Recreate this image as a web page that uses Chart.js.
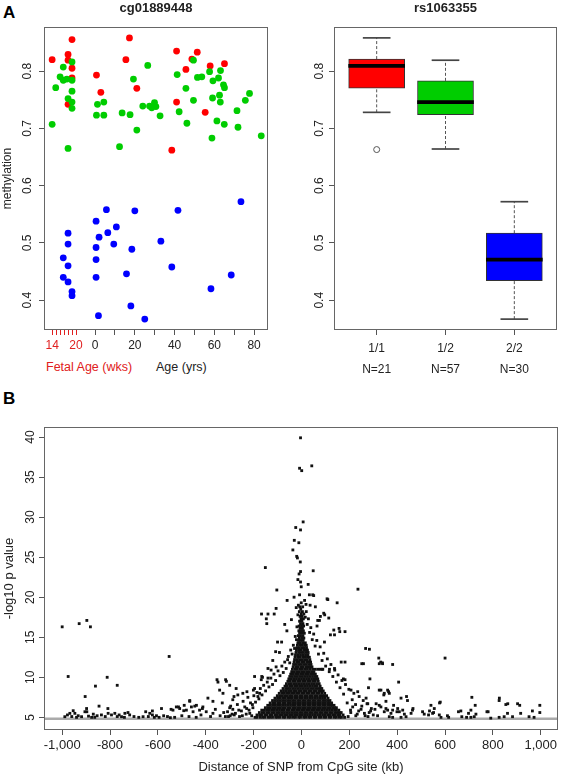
<!DOCTYPE html>
<html>
<head>
<meta charset="utf-8">
<script src="https://cdn.jsdelivr.net/npm/chart.js@4.4.1/dist/chart.umd.min.js"></script>
<style>
  html, body { margin: 0; padding: 0; background: #fff; }
  body { width: 562px; height: 776px; position: relative; overflow: hidden; font-family: "Liberation Sans", Arial, sans-serif; }
  canvas { position: absolute; }
  .lbl { position: absolute; white-space: nowrap; line-height: 1; }
</style>
</head>
<body>
<div class="lbl" style="left:3px;top:4px;font-size:17px;font-weight:bold;">A</div>
<div class="lbl" style="left:3px;top:390px;font-size:17px;font-weight:bold;">B</div>
<div class="lbl" style="left:46px;top:361px;font-size:12.5px;color:#E02020;">Fetal Age (wks)</div>
<div class="lbl" style="left:156px;top:361px;font-size:12.5px;color:#222;">Age (yrs)</div>
<canvas id="ageChart" style="left:0;top:0;width:281px;height:385px" width="281" height="385"></canvas>
<canvas id="boxChart" style="left:281px;top:0;width:281px;height:385px" width="281" height="385"></canvas>
<canvas id="snpChart" style="left:0;top:385px;width:562px;height:391px" width="562" height="391"></canvas>
<script>
// ---- Panel A left: cg01889448 methylation vs age, coloured by rs1063355 genotype ----
// fetal samples are in weeks of gestation, postnatal samples in years
const fetalWeeks11 = [14, 19, 18, 18, 19, 19, 18];
const fetalMeth11 = [0.820, 0.855, 0.829, 0.819, 0.805, 0.788, 0.742];
const ageYears11 = [0.7, 2.9, 17.3, 15.5, 21, 41, 45.7, 41, 38.6, 51.4, 48.7, 57.9, 65.1, 55.4];
const ageMeth11 = [0.793, 0.763, 0.858, 0.820, 0.770, 0.835, 0.803, 0.746, 0.662, 0.833, 0.821, 0.809, 0.813, 0.728];

const fetalWeeks12 = [14, 14.9, 16, 16.8, 16.8, 17.7, 19, 19, 19, 18, 19, 19, 18];
const fetalMeth12 = [0.707, 0.771, 0.790, 0.807, 0.784, 0.786, 0.816, 0.784, 0.765, 0.752, 0.746, 0.735, 0.665];
const ageYears12 = [0.7, 1.2, 4.4, 4.4, 12.3, 13.6, 17.6, 19.3, 21, 26.5, 24, 27.4, 28.5, 29.9, 30.6, 32.7,
  41.3, 42.3, 46.2, 45.7, 49.5, 49.5, 51.5, 53.7, 57.6, 59.3, 59.1, 58.8, 61.3, 62.1, 63.1, 62.6, 63,
  64.6, 65.1, 65, 71.4, 71.9, 75.6, 77.7, 83.6];
const ageMeth12 = [0.723, 0.742, 0.723, 0.746, 0.668, 0.727, 0.724, 0.786, 0.697, 0.810, 0.739, 0.739, 0.736, 0.745, 0.738, 0.722,
  0.794, 0.729, 0.709, 0.770, 0.749, 0.819, 0.789, 0.790, 0.799, 0.783, 0.753, 0.683, 0.713, 0.788, 0.801, 0.758, 0.746,
  0.776, 0.771, 0.707, 0.731, 0.702, 0.749, 0.761, 0.687];

const fetalWeeks22 = [16.8, 16.8, 18, 18, 18, 18, 19, 19];
const fetalMeth22 = [0.474, 0.440, 0.517, 0.498, 0.460, 0.432, 0.415, 0.408];
const ageYears22 = [0.5, 0.5, 0.5, 0.5, 1.7, 2, 5.7, 6.4, 9.4, 10.7, 15.8, 18, 18.5, 20, 25, 33.1, 38.6, 41.7, 58.3, 68.5, 73.4];
const ageMeth22 = [0.538, 0.492, 0.471, 0.440, 0.373, 0.510, 0.558, 0.518, 0.498, 0.528, 0.446, 0.390, 0.489, 0.556, 0.367, 0.503, 0.458, 0.557, 0.420, 0.444, 0.572];

const fetalTickWeeks = [14, 15, 16, 17, 18, 19, 20];
const fetalLabelWeeks = [14, 20];
const ageTickYears = [0, 10, 20, 30, 40, 50, 60, 70, 80];
const ageLabelYears = [0, 20, 40, 60, 80];
const methTicks = [0.4, 0.5, 0.6, 0.7, 0.8];

// ---- Panel A right: boxplot by genotype ----
const genotypes = ['1/1', '1/2', '2/2'];
const genotypeN = [21, 57, 30];
const boxLow = [0.728, 0.664, 0.367];
const boxQ1 = [0.770, 0.724, 0.434];
const boxMed = [0.809, 0.746, 0.471];
const boxQ3 = [0.821, 0.783, 0.517];
const boxHigh = [0.858, 0.819, 0.572];
const boxOutliers = [[0.663], [], []];

// ---- Panel B: SNP distance (kb) vs -log10 p ----
const distTicks = [-1000, -800, -600, -400, -200, 0, 200, 400, 600, 800, 1000];
const pTicks = [5, 10, 15, 20, 25, 30, 35, 40];
const pThreshold = 4.83;

// isolated points read one by one: [kb, -log10 p]
const snpScattered = [
  [-4,39.9],[-8,36.1],[1,35.8],[43,36.4],[7,29.4],[-24,28.7],[-4,28.4],[-30,27.1],[-11,26.8],[-36,25.9],
  [-20,25.1],[-17,24.9],[-5,24.4],[-151,23.7],[49,23.3],[-4,23.2],[-10,22.9],[-4,21.9],[-1,21.3],[-103,20.9],
  [236,21.0],[-8,20.3],[33,20.3],[47,20.3],[-60,19.6],[110,19.7],[149,19.3],[-1,19.3],[19,19.1],[36,19.0],
  [-22,18.7],[-167,17.9],[-140,17.9],[-114,17.9],[-106,18.6],[-147,17.3],[-145,16.7],[97,17.8],[114,17.4],[68,17.1],
  [75,17.1],[157,16.1],[160,15.7],[182,15.7],[-61,15.8],[138,15.3],[96,14.4],[-100,14.4],[-83,14.4],[268,13.6],
  [284,13.5],[-108,13.2],[-92,13.1],[-120,12.1],[-58,12.2],[323,12.4],[331,11.9],[338,11.8],[381,11.6],[252,11.7],
  [259,11.7],[166,11.9],[182,11.9],[138,11.1],[117,11.0],[89,11.0],[-140,11.1],[-127,10.9],[-106,11.3],[-196,10.1],
  [-166,10.1],[-168,9.7],[-140,9.9],[-353,9.7],[-317,9.7],[-349,9.4],[-300,9.0],[182,9.7],[175,9.8],[286,9.8],
  [280,8.7],[332,8.4],[360,8.4],[344,7.8],[367,8.0],[235,8.2],[207,8.4],[-391,7.4],[-342,8.4],[-328,8.0],
  [-370,7.0],[-273,8.6],[-266,7.8],[-287,7.2],[-245,8.0],[-196,8.6],[-175,8.0],[-182,7.6],[385,6.5],[353,7.0],
  [381,5.9],[399,5.7],[270,7.4],[277,6.7],[312,6.7],[51,20.2],[107,19.8],[121,15.3],[135,15.9],[79,17.6],
  [93,18.0],[65,16.4],[58,18.8],[-42,17.2],[-70,16.6],[-31,20.0],[28,21.6],[-15,22.2],
  [-1000,16.3],[-975,10.1],[-929,16.7],[-897,17.1],[-882,16.3],[-904,7.6],[-812,10.0],[-861,8.9],[-770,9.0],[-846,6.4],
  [-898,6.1],[-897,5.7],[-809,6.1],[-553,12.6],[-623,5.8],[-545,6.0],[-514,6.3],[-467,7.0],[-490,6.5],[-446,6.4],
  [-414,6.1],[-314,9.5],[-331,6.8],[-282,7.6],[-228,8.2],[-163,10.0],[-201,8.4],
  [-989,5.08],[-978,5.3],[-968,5.5],[-954,5.83],[-947,5.5],[-933,5.2],[-919,5.08],[-905,5.7],[-877,5.0],[-864,5.0],
  [-854,5.2],[-836,5.3],[-808,5.5],[-794,5.3],[-780,5.5],[-762,5.3],[-752,5.08],[-738,5.5],[-725,5.6],[-718,5.3],
  [-662,5.08],[-651,5.7],[-634,5.5],[-623,5.3],[-606,5.2],[-595,5.0],[-585,6.1],[-576,5.2],[-548,4.96],[-537,5.9],
  [-523,6.3],[-509,6.1],[-492,5.83],[-481,5.9],[-467,7.1],[-460,6.3],[-453,5.7],[-439,6.5],[-426,5.9],[-412,6.3],
  [-398,5.7],[-960,5.1],[-940,5.0],[-890,5.15],[-870,5.4],[-820,5.1],[-770,5.1],[-740,5.0],[-700,5.1],[-680,5.0],
  [-640,5.1],[-615,5.0],[-560,5.1],[-530,5.0],[-500,5.2],[-470,5.1],[-440,5.0],[-420,5.3],[-380,5.1],[-370,5.5],
  [-360,6.0],[-340,5.2],[-325,5.6],[-305,5.1],[-300,6.2],[-290,5.4],
  [325,6.5],[332,6.3],[353,6.1],[346,5.7],[360,5.9],[374,5.5],[367,5.08],[381,5.0],[402,6.1],[409,5.7],
  [423,5.9],[430,5.4],[437,5.08],[416,5.0],[464,5.9],[458,5.5],[506,5.7],[513,5.4],[531,5.3],[548,5.5],
  [576,5.3],[583,5.0],[610,5.2],[615,5.0],[666,5.8],[656,5.7],[670,5.08],[690,5.0],[708,5.0],[722,5.08],
  [708,5.9],[698,5.5],[729,5.4],[791,4.9],[826,5.0],[847,5.08],[882,5.08],[951,5.08],[972,5.0],[780,5.7],
  [861,5.5],[916,5.5],[965,5.8],[996,5.6],[996,6.5],[903,6.7],[912,6.5],[854,6.6],[826,7.1],[712,7.5],
  [726,6.5],[580,6.9],[541,6.5],[555,6.1],[416,7.4],[439,7.6],[443,7.1],[325,8.4],[346,8.0],[364,8.2],
  [406,9.4],[325,11.7],[339,11.7],[600,12.4],[466,6.1],[535,5.8],[552,5.6],[577,6.8],[827,7.4],[862,6.7],[775,5.7]
];

// looser points around the edge of the dense cloud
const snpHalo = [
  [-298,5.2],[-287,6.0],[-276,5.5],[-268,6.6],[-259,5.1],[-251,5.8],[-244,7.0],[-237,6.3],[-231,5.4],[-224,7.5],
  [-219,5.9],[-213,6.8],[-208,5.2],[-203,6.2],[-199,7.7],[-192,6.9],[-186,8.1],[-178,7.3],[-172,8.6],[-165,7.8],
  [-158,9.0],[-150,8.3],[-143,9.4],[-136,8.8],[-128,9.9],[-121,9.1],[-115,10.4],[-108,9.6],[-98,10.8],[-90,10.2],
  [-82,11.4],[-76,10.6],[-70,11.9],[-64,11.1],[-55,12.6],[-49,11.8],[-45,13.4],[-39,12.9],[-34,14.0],[-29,13.6],
  [-26,15.1],[-21,14.7],[-19,16.3],[-15,17.8],[-13,19.0],[-318,5.1],[-309,5.7],[-296,6.4],[-281,5.3],[-262,5.9],
  [-247,5.2],[-229,6.1],[-216,5.5],[-205,6.6],
  [300,5.3],[292,6.1],[283,5.6],[274,6.7],[266,5.2],[258,7.1],[249,6.0],[241,7.6],[233,5.4],[226,6.6],
  [219,8.0],[212,7.2],[205,5.9],[198,8.5],[191,6.8],[184,9.1],[176,7.9],[169,9.6],[161,8.7],[153,10.3],
  [146,9.4],[139,10.9],[131,10.1],[123,11.6],[116,10.7],[108,12.3],[101,11.4],[93,13.0],[86,12.1],[78,13.8],
  [71,12.9],[64,14.6],[57,13.9],[51,15.4],[45,14.7],[39,16.2],[34,15.6],[29,17.3],[24,16.6],[20,18.2],
  [16,17.5],[13,19.6],[195,5.1],[206,5.6],[214,6.3],[227,5.2],[239,5.8],[252,6.4],[263,5.5],[278,5.1],
  [289,5.8],[307,6.0],[318,5.2]
];

// the solid cloud around the CpG site, read row by row: [-log10 p, kb positions]
const snpCoreRows = [
  [5.0, [-194,-185,-172,-162,-153,-140,-131,-121,-108,-99,-89,-76,-68,-55,-46,-34,-25,-12,-4,9,18,30,39,52,60,73,82,94,103,116,124,137,146,158,167,180]],
  [5.3, [-186,-175,-165,-153,-144,-132,-123,-111,-101,-91,-80,-70,-59,-49,-38,-28,-17,-7,4,14,25,35,46,56,67,77,88,98,109,119,130,140,151,161,174]],
  [5.6, [-176,-164,-155,-143,-134,-122,-113,-101,-92,-81,-71,-60,-50,-39,-29,-19,-8,2,13,23,34,44,55,65,76,86,97,107,118,128,139,149,158,166]],
  [5.9, [-166,-155,-145,-134,-124,-113,-103,-92,-82,-72,-61,-51,-40,-30,-20,-9,1,12,22,33,43,54,64,75,85,96,106,117,127,138,146,156]],
  [6.2, [-151,-141,-130,-120,-109,-99,-88,-78,-68,-57,-47,-36,-26,-16,-5,5,16,26,37,47,58,68,79,89,100,110,121,131,139,146]],
  [6.5, [-141,-130,-120,-109,-99,-88,-78,-67,-57,-46,-36,-26,-15,-5,6,16,27,37,48,58,69,79,90,100,111,121,128,136]],
  [6.8, [-131,-120,-110,-99,-89,-78,-68,-57,-47,-37,-26,-16,-5,5,16,26,37,47,58,68,79,89,100,110,117,126]],
  [7.1, [-121,-110,-100,-89,-79,-68,-58,-47,-37,-27,-16,-6,5,15,26,36,47,57,68,78,89,99,109,119]],
  [7.4, [-111,-100,-90,-79,-69,-58,-48,-38,-27,-17,-6,4,15,25,36,46,57,67,78,88,99,111]],
  [7.7, [-101,-91,-80,-70,-59,-49,-39,-28,-18,-7,3,14,24,35,45,56,66,77,87,96,105]],
  [8.0, [-93,-82,-72,-62,-51,-41,-30,-20,-10,1,11,22,32,43,53,64,74,85,97]],
  [8.3, [-85,-75,-64,-54,-44,-33,-23,-12,-2,9,19,30,40,51,61,72,82,91]],
  [8.6, [-77,-66,-56,-46,-35,-25,-14,-4,7,17,28,38,49,59,70,79,85]],
  [8.9, [-69,-59,-48,-38,-27,-17,-7,4,14,25,35,46,56,66,78]],
  [9.2, [-63,-52,-42,-31,-21,-11,0,10,21,31,42,52,63,74]],
  [9.5, [-57,-47,-36,-26,-15,-5,6,16,27,37,48,58,70]],
  [9.8, [-53,-42,-32,-21,-11,0,10,21,31,42,52,61,68]],
  [10.1, [-49,-38,-28,-17,-7,4,14,25,35,46,56,64]],
  [10.4, [-45,-34,-24,-13,-3,8,18,29,39,49,58]],
  [10.7, [-41,-30,-20,-9,1,12,22,33,43,52]],
  [11.0, [-38,-27,-17,-6,4,15,25,36,47,58,69,78,86]],
  [11.3, [-35,-24,-14,-3,7,18,28,37,44]],
  [11.6, [-33,-22,-12,-1,9,20,30,40]],
  [11.9, [-31,-20,-10,1,11,22,31,38]],
  [12.2, [-29,-18,-8,3,13,24,35]],
  [12.5, [-27,-16,-6,5,15,25,33]],
  [12.8, [-25,-14,-4,7,17,27]],
  [13.1, [-23,-12,-2,8,18,28]],
  [13.4, [-21,-11,-1,10,20,25]],
  [13.7, [-19,-9,1,11,21]],
  [14.0, [-17,-7,3,13,20]],
  [14.3, [-15,-5,5,16]],
  [14.6, [-12,-3,7]],
  [14.9, [-9,1,10]],
  [15.2, [-13,-4,6]],
  [15.5, [-8,2,12]],
  [15.8, [-11,-2,8]],
  [16.1, [-6,4]],
  [16.4, [-10,0,9]],
  [16.7, [-4,6]],
  [17.0, [-8,2]],
  [17.3, [-2,8]],
  [17.6, [-6,3]],
  [17.9, [-1,10]],
  [18.2, [-9,4]],
  [18.5, [-3]],
  [18.8, [5,-7]]
];

// ---------------------------------------------------------------
Chart.defaults.font.family = '"Liberation Sans", Arial, sans-serif';
Chart.defaults.color = '#222';
Chart.defaults.animation = false;
Chart.defaults.plugins.legend.display = false;
Chart.defaults.plugins.tooltip.enabled = false;

const RED = '#FF0000', GREEN = '#00CD00', BLUE = '#0000FF', FETAL_RED = '#E02020';

// R-style box around the plotting region
const frame = {
  id: 'frame',
  afterDraw(chart) {
    const { ctx, chartArea: a } = chart;
    ctx.save();
    ctx.strokeStyle = '#666';
    ctx.lineWidth = 1;
    ctx.strokeRect(Math.round(a.left) + 0.5, Math.round(a.top) + 0.5, Math.round(a.width) - 1, Math.round(a.height) - 1);
    ctx.restore();
  }
};

const setTicks = values => scale => { scale.ticks = values.map(v => ({ value: v })); };
const fixWidth = w => scale => { scale.width = w; };
const fixHeight = h => scale => { scale.height = h; };

// fetal weeks share the age axis, squeezed into the space left of birth
const fetalPos = w => 2.0 * w - 49.6;
const toPoints = (xs, ys) => xs.map((x, i) => ({ x, y: ys[i] }));

const ageXTicks = [...fetalTickWeeks.map(fetalPos), ...ageTickYears];
const ageXLabels = [
  ...fetalTickWeeks.map(w => fetalLabelWeeks.includes(w) ? String(w) : ''),
  ...ageTickYears.map(a => ageLabelYears.includes(a) ? String(a) : '')
];
const isFetalTick = ctx => ctx.index < fetalTickWeeks.length;

const methAxis = (width, pad) => ({
  min: 0.348, max: 0.877,
  afterBuildTicks: setTicks(methTicks),
  afterFit: fixWidth(width),
  border: { display: false },
  grid: { drawOnChartArea: false, tickLength: 5, tickColor: '#555' },
  ticks: { callback: v => v.toFixed(1), minRotation: 90, maxRotation: 90, crossAlign: 'center', padding: pad, font: { size: 12 } }
});

new Chart(document.getElementById('ageChart'), {
  type: 'scatter',
  data: {
    datasets: [
      { data: [...toPoints(fetalWeeks22.map(fetalPos), fetalMeth22), ...toPoints(ageYears22, ageMeth22)], backgroundColor: BLUE },
      { data: [...toPoints(fetalWeeks12.map(fetalPos), fetalMeth12), ...toPoints(ageYears12, ageMeth12)], backgroundColor: GREEN },
      { data: [...toPoints(fetalWeeks11.map(fetalPos), fetalMeth11), ...toPoints(ageYears11, ageMeth11)], backgroundColor: RED }
    ]
  },
  options: {
    responsive: false,
    layout: { padding: { top: 0, right: 13, left: 0, bottom: 0 } },
    elements: { point: { radius: 3.4, borderWidth: 0 } },
    plugins: {
      title: { display: true, fullSize: false, text: 'cg01889448', font: { size: 13, weight: 'bold' }, padding: { top: 1, bottom: 10.4 } }
    },
    scales: {
      x: {
        type: 'linear', min: -25.7, max: 87,
        afterBuildTicks: setTicks(ageXTicks),
        afterFit: fixHeight(55),
        border: { display: false },
        grid: { drawOnChartArea: false, tickLength: 5, tickColor: ctx => isFetalTick(ctx) ? FETAL_RED : '#555' },
        ticks: { autoSkip: false, maxRotation: 0, callback: (v, i) => ageXLabels[i], color: ctx => isFetalTick(ctx) ? FETAL_RED : '#222', font: { size: 12 } }
      },
      y: {
        ...methAxis(44, 3),
        title: { display: true, text: 'methylation', font: { size: 12 }, padding: 0 }
      }
    }
  },
  plugins: [frame]
});

// ---- boxplot built from floating bars and dashed whiskers ----
const boxX = genotypes.map((g, i) => i + 1);
const whiskers = [];
boxX.forEach((x, i) => {
  whiskers.push({ type: 'line', data: [{ x, y: boxQ3[i] }, { x, y: boxHigh[i] }] });
  whiskers.push({ type: 'line', data: [{ x, y: boxLow[i] }, { x, y: boxQ1[i] }] });
});
whiskers.forEach(d => Object.assign(d, { borderColor: '#555', borderWidth: 1, borderDash: [3, 2], pointRadius: 0, order: 3 }));

const flatBar = (vals, half) => vals.map((v, i) => ({ x: boxX[i], y: [v - half, v + half] }));

new Chart(document.getElementById('boxChart'), {
  type: 'bar',
  data: {
    datasets: [
      { data: flatBar(boxMed, 0.0027), backgroundColor: '#000', barThickness: 56, grouped: false, order: 0 },
      { data: boxX.map((x, i) => ({ x, y: [boxQ1[i], boxQ3[i]] })), backgroundColor: [RED, GREEN, BLUE],
        borderColor: '#333', borderWidth: 1, borderSkipped: false, barThickness: 56, grouped: false, order: 1 },
      { data: flatBar(boxHigh, 0.0009), backgroundColor: '#444', barThickness: 27, grouped: false, order: 2 },
      { data: flatBar(boxLow, 0.0009), backgroundColor: '#444', barThickness: 27, grouped: false, order: 2 },
      ...whiskers,
      { type: 'scatter', data: boxOutliers.flatMap((list, i) => list.map(y => ({ x: boxX[i], y }))),
        pointRadius: 3, backgroundColor: '#fff', borderColor: '#555', borderWidth: 1, order: 0 }
    ]
  },
  options: {
    responsive: false,
    layout: { padding: { top: 0, right: 3, left: 0, bottom: 0 } },
    plugins: {
      title: { display: true, fullSize: false, text: 'rs1063355', font: { size: 13, weight: 'bold' }, padding: { top: 1, bottom: 10.4 } }
    },
    scales: {
      x: {
        type: 'linear', min: 0.38, max: 3.62, offset: false,
        afterBuildTicks: setTicks(boxX),
        afterFit: fixHeight(55),
        border: { display: false },
        grid: { drawOnChartArea: false, offset: false, tickLength: 5, tickColor: '#555' },
        ticks: { autoSkip: false, maxRotation: 0, callback: (v, i) => [genotypes[i], 'N=' + genotypeN[i]], font: { size: 12, lineHeight: 1.75 } }
      },
      y: methAxis(53, 1)
    }
  },
  plugins: [frame]
});

// ---- Panel B ----
const snpPoints = [
  ...snpScattered.map(([x, y]) => ({ x, y })),
  ...snpHalo.map(([x, y]) => ({ x, y })),
  ...snpCoreRows.flatMap(([y, xs]) => xs.map(x => ({ x, y })))
];

const thresholdLine = {
  id: 'thresholdLine',
  beforeDatasetsDraw(chart) {
    const { ctx, chartArea: a, scales } = chart;
    const y = scales.y.getPixelForValue(pThreshold);
    ctx.save();
    ctx.strokeStyle = '#AAAAAA';
    ctx.lineWidth = 2.5;
    ctx.beginPath();
    ctx.moveTo(a.left, y);
    ctx.lineTo(a.right, y);
    ctx.stroke();
    ctx.restore();
  }
};

new Chart(document.getElementById('snpChart'), {
  type: 'scatter',
  data: {
    datasets: [{ data: snpPoints, backgroundColor: '#111', pointStyle: 'rect', pointRadius: 2, borderWidth: 0 }]
  },
  options: {
    responsive: false,
    layout: { padding: { top: 42, right: 3, left: 0, bottom: 0 } },
    scales: {
      x: {
        type: 'linear', min: -1076, max: 1072,
        afterBuildTicks: setTicks(distTicks),
        afterFit: fixHeight(46),
        border: { display: false },
        grid: { drawOnChartArea: false, tickLength: 5, tickColor: '#555' },
        ticks: { autoSkip: false, maxRotation: 0, font: { size: 13 } },
        title: { display: true, text: 'Distance of SNP from CpG site (kb)', font: { size: 13 }, padding: { top: 0, bottom: 1 } }
      },
      y: {
        min: 3.42, max: 41.25,
        afterBuildTicks: setTicks(pTicks),
        afterFit: fixWidth(44),
        border: { display: false },
        grid: { drawOnChartArea: false, tickLength: 5, tickColor: '#555' },
        ticks: { minRotation: 90, maxRotation: 90, crossAlign: 'center', padding: 2, font: { size: 12 } },
        title: { display: true, text: '-log10 p value', font: { size: 13 }, padding: { top: 2 } }
      }
    }
  },
  plugins: [frame, thresholdLine]
});
</script>
</body>
</html>
